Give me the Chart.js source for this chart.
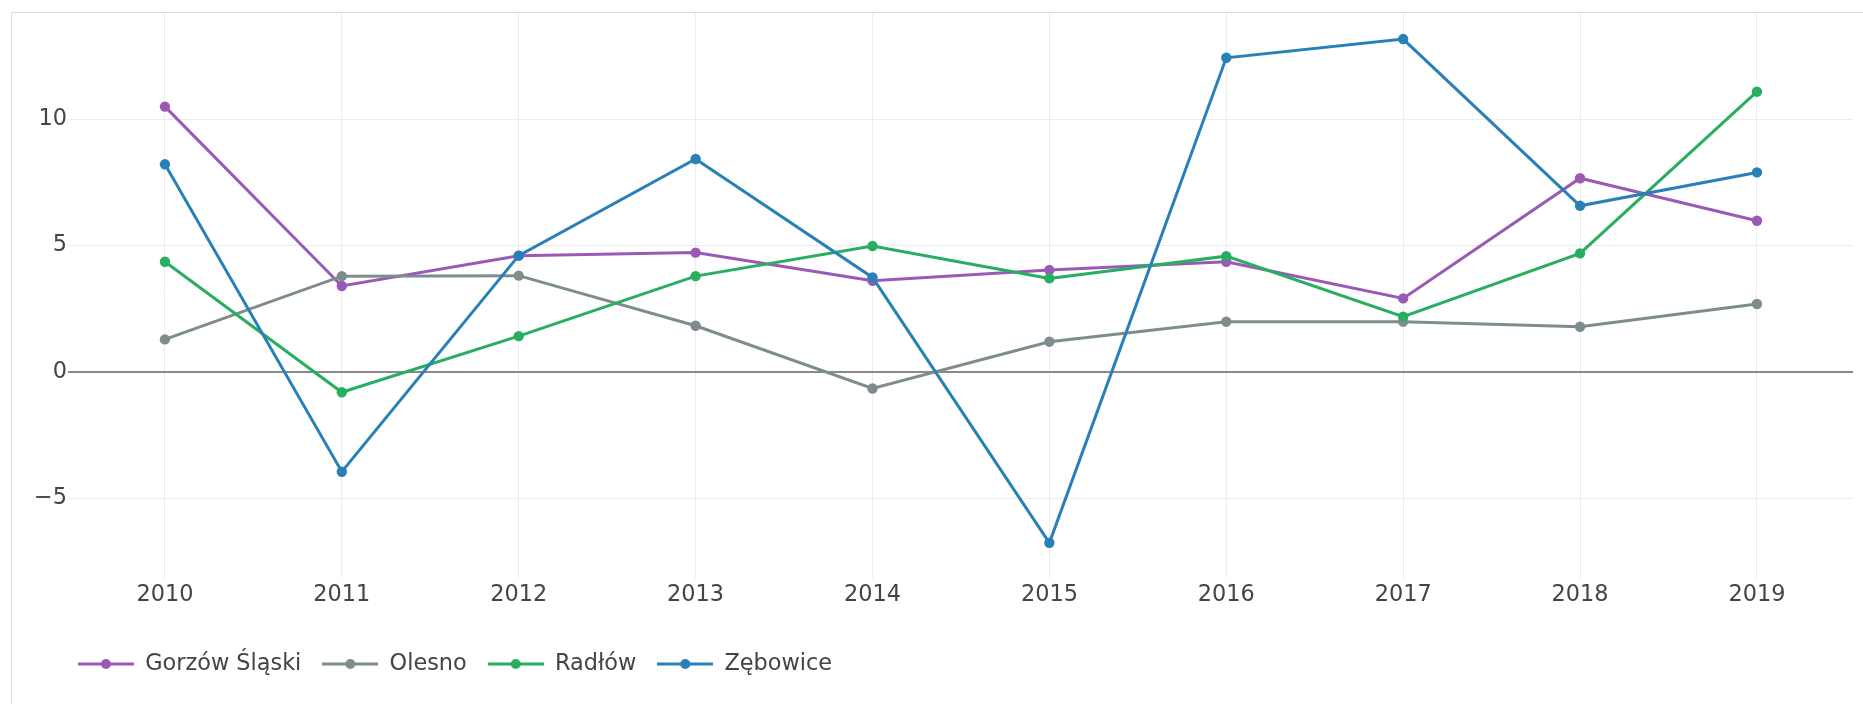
<!DOCTYPE html>
<html>
<head>
<meta charset="utf-8">
<script src="https://cdn.jsdelivr.net/npm/chart.js@4"></script>
<style>
  html, body { margin: 0; padding: 0; background: #fff; overflow: hidden; }
  #frame {
    position: absolute; left: 11px; top: 12px;
    width: 1852px; height: 692px;
    border-left: 1px solid #d6dcec; border-top: 1px solid #d6dcec;
  }
  #wrap { position: absolute; left: 0; top: 0; width: 1851px; height: 691px; }
</style>
</head>
<body>
<div id="frame"><div id="wrap"><canvas id="lineChart"></canvas></div></div>
<script>
// Data
const years = [2010, 2011, 2012, 2013, 2014, 2015, 2016, 2017, 2018, 2019];
const gorzowSlaski = [10.49, 3.40, 4.60, 4.72, 3.61, 4.03, 4.36, 2.91, 7.66, 5.98];
const olesno = [1.29, 3.79, 3.81, 1.83, -0.65, 1.20, 1.99, 1.99, 1.79, 2.69];
const radlow = [4.36, -0.80, 1.42, 3.79, 4.98, 3.70, 4.58, 2.19, 4.69, 11.08];
const zebowice = [8.21, -3.94, 4.60, 8.42, 3.74, -6.75, 12.42, 13.16, 6.57, 7.89];
const yTicks = [-5, 0, 5, 10];

const seriesNames = ['Gorzów Śląski', 'Olesno', 'Radłów', 'Zębowice'];
const seriesColors = ['#9b59b6', '#7f8c8d', '#27ae60', '#2980b9'];
const seriesValues = [gorzowSlaski, olesno, radlow, zebowice];

const FONT = '"DejaVu Sans", Verdana, sans-serif';
const FONT_SIZE = 22.4;
const TEXT_COLOR = '#444';

// legend symbol: short line with a dot in the middle
function legendSymbol(color) {
    const c = document.createElement('canvas');
    c.width = 56; c.height = 12;
    const g = c.getContext('2d');
    g.strokeStyle = color;
    g.lineWidth = 3;
    g.beginPath(); g.moveTo(0, 6); g.lineTo(56, 6); g.stroke();
    g.fillStyle = color;
    g.beginPath(); g.arc(28, 6, 5, 0, Math.PI * 2); g.fill();
    return c;
}

// push the legend to the right without moving the y axis
const legendShift = {
    id: 'legendShift',
    beforeDraw(chart) {
        if (chart.legend) chart.legend.left = 45;
    }
};

function noEdgePadding(scale) {
    scale.paddingTop = 0;
    scale.paddingBottom = 0;
    scale.paddingLeft = 0;
    scale.paddingRight = 0;
}

const datasets = seriesNames.map((name, i) => ({
    label: name,
    data: years.map((yr, j) => ({ x: yr, y: seriesValues[i][j] })),
    borderColor: seriesColors[i],
    backgroundColor: seriesColors[i],
    borderWidth: 3,
    pointRadius: 5.2,
    pointBorderWidth: 0,
    tension: 0,
    fill: false,
    order: seriesNames.length - i
}));

const ctx = document.getElementById('lineChart').getContext('2d');
new Chart(ctx, {
    type: 'line',
    data: { datasets: datasets },
    plugins: [legendShift],
    options: {
        responsive: true,
        maintainAspectRatio: false,
        animation: false,
        layout: { autoPadding: false, padding: { left: 11, right: 10, top: 0, bottom: 18.8 } },
        scales: {
            x: {
                type: 'linear',
                min: 2009.452,
                max: 2019.543,
                afterBuildTicks: axis => { axis.ticks = years.map(v => ({ value: v })); },
                afterFit: scale => { scale.height = 53.8; noEdgePadding(scale); },
                border: { display: false },
                grid: { color: '#ececec', lineWidth: 1, drawTicks: false },
                ticks: {
                    color: TEXT_COLOR,
                    padding: 4,
                    font: { family: FONT, size: FONT_SIZE },
                    callback: v => String(v)
                }
            },
            y: {
                min: -8.14,
                max: 14.19,
                afterBuildTicks: axis => { axis.ticks = yTicks.map(v => ({ value: v })); },
                afterFit: scale => { scale.width = 45; noEdgePadding(scale); },
                border: { display: false },
                grid: {
                    drawTicks: false,
                    color: c => c.tick && c.tick.value === 0 ? '#898989' : '#ececec',
                    lineWidth: c => c.tick && c.tick.value === 0 ? 2 : 1
                },
                ticks: {
                    color: TEXT_COLOR,
                    padding: 1,
                    font: { family: FONT, size: FONT_SIZE },
                    callback: v => v < 0 ? '\u2212' + Math.abs(v) : String(v)
                }
            }
        },
        plugins: {
            tooltip: { enabled: false },
            legend: {
                position: 'bottom',
                align: 'start',
                labels: {
                    usePointStyle: true,
                    pointStyleWidth: 56,
                    padding: 21,
                    color: TEXT_COLOR,
                    font: { family: FONT, size: FONT_SIZE },
                    sort: (a, b) => a.datasetIndex - b.datasetIndex,
                    generateLabels: chart => {
                        const items = Chart.defaults.plugins.legend.labels.generateLabels(chart);
                        items.forEach(it => { it.pointStyle = legendSymbol(seriesColors[it.datasetIndex]); });
                        return items;
                    }
                }
            }
        }
    }
});
</script>
</body>
</html>
